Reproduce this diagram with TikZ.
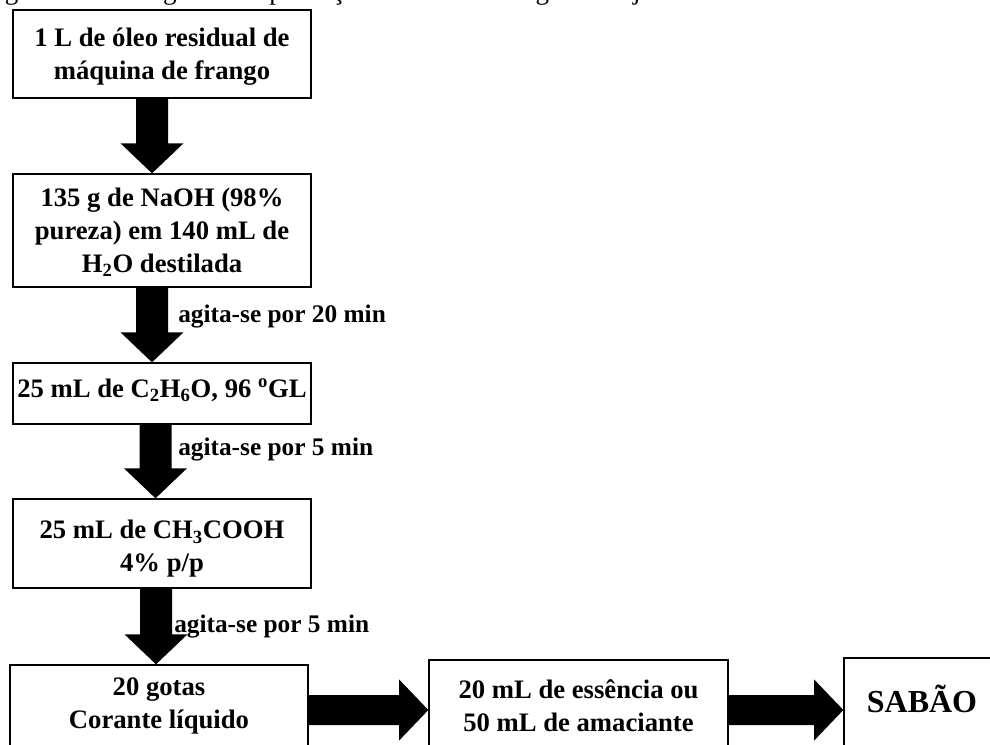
\documentclass[tikz,border=0pt]{standalone}
\usepackage{fontspec}
\setmainfont{Liberation Serif}
\usetikzlibrary{calc}
\newcommand\blkdown[3]{%
  \fill let \p1=($(#1)+(#3,0)$), \p2=(#2) in
    (\x1-12pt,\y1) -- (\x1-12pt,\y2+22.5pt) -- (\x1-23.6pt,\y2+22.5pt) -- (\x1,\y2)
    -- (\x1+23.6pt,\y2+22.5pt) -- (\x1+12pt,\y2+22.5pt) -- (\x1+12pt,\y1) -- cycle;}
\newcommand\blkright[3]{%
  \fill let \p1=($(#1)+(0,#3)$), \p2=(#2) in
    (\x1,\y1+11.25pt) -- (\x2-22pt,\y1+11.25pt) -- (\x2-22pt,\y1+23pt) -- (\x2,\y1)
    -- (\x2-22pt,\y1-23pt) -- (\x2-22pt,\y1-11.25pt) -- (\x1,\y1-11.25pt) -- cycle;}
\begin{document}
\begin{tikzpicture}[x=0.75pt,y=-0.75pt,
  bx/.style={draw=black, line width=1pt, inner sep=0pt, minimum width=223.5pt},
  tx/.style={align=center, inner sep=0pt, font=\bfseries\fontsize{20}{24.75}\selectfont},
  lbl/.style={anchor=base west, inner sep=0pt, font=\bfseries\fontsize{19}{23}\selectfont}]
\useasboundingbox (0,0) rectangle (990,744);
\clip (0,0) rectangle (990,744);
\node[anchor=base west, inner sep=0pt, font=\fontsize{20.25}{24}\selectfont] (cap) at (-18,-1)
  {Figura 3 – Fluxograma da produção de sabão ecológico na ajeita};
% boxes
\node[bx, minimum height=66pt] (b1) at (162,54) {};
\node[bx, minimum height=84.75pt] (b2) at (162,230.5) {};
\node[bx, minimum height=45.75pt] (b3) at (162,393.5) {};
\node[bx, minimum height=66.75pt] (b4) at (162,543.5) {};
\node[bx, minimum height=61.5pt] (b5) at (159,706) {};
\node[bx, minimum width=224.25pt, minimum height=72pt] (b6) at (578.5,708) {};
\node[bx, minimum width=117pt, minimum height=67.5pt] (b7) at (922,703) {};
% texts
\node[tx] (t1) at (162,56.5) {1 L de óleo residual de\\máquina de frango};
\node[tx] (t2) at (162,232.5) {135 g de NaOH (98\%\\pureza) em 140 mL de\\H\textsubscript{2}O destilada};
\node[tx] (t3) at (162,390.5) {25 mL de C\textsubscript{2}H\textsubscript{6}O, 96 \textsuperscript{o}GL};
\node[tx] (t4) at (162,549) {25 mL de CH\textsubscript{3}COOH\\4\% p/p};
\node[tx] (t5) at (159,706) {20 gotas\\Corante líquido};
\node[tx] (t6) at (578.5,705.5) {20 mL de essência ou\\50 mL de amaciante};
\node[tx, font=\bfseries\fontsize{24}{28}\selectfont] (t7) at (922,699) {SABÃO};
% labels
\node[lbl] (l1) at (178,322) {agita-se por 20 min};
\node[lbl] (l2) at (178,455) {agita-se por 5 min};
\node[lbl] (l3) at (174,632) {agita-se por 5 min};
% arrows
\blkdown{b1.south}{b2.north}{-10}
\blkdown{b2.south}{b3.north}{-10}
\blkdown{b3.south}{b4.north}{-6.5}
\blkdown{b4.south}{b5.north}{-6}
\blkright{b5.east}{b6.west}{4}
\blkright{b6.east}{b7.west}{2}
\end{tikzpicture}
\end{document}
